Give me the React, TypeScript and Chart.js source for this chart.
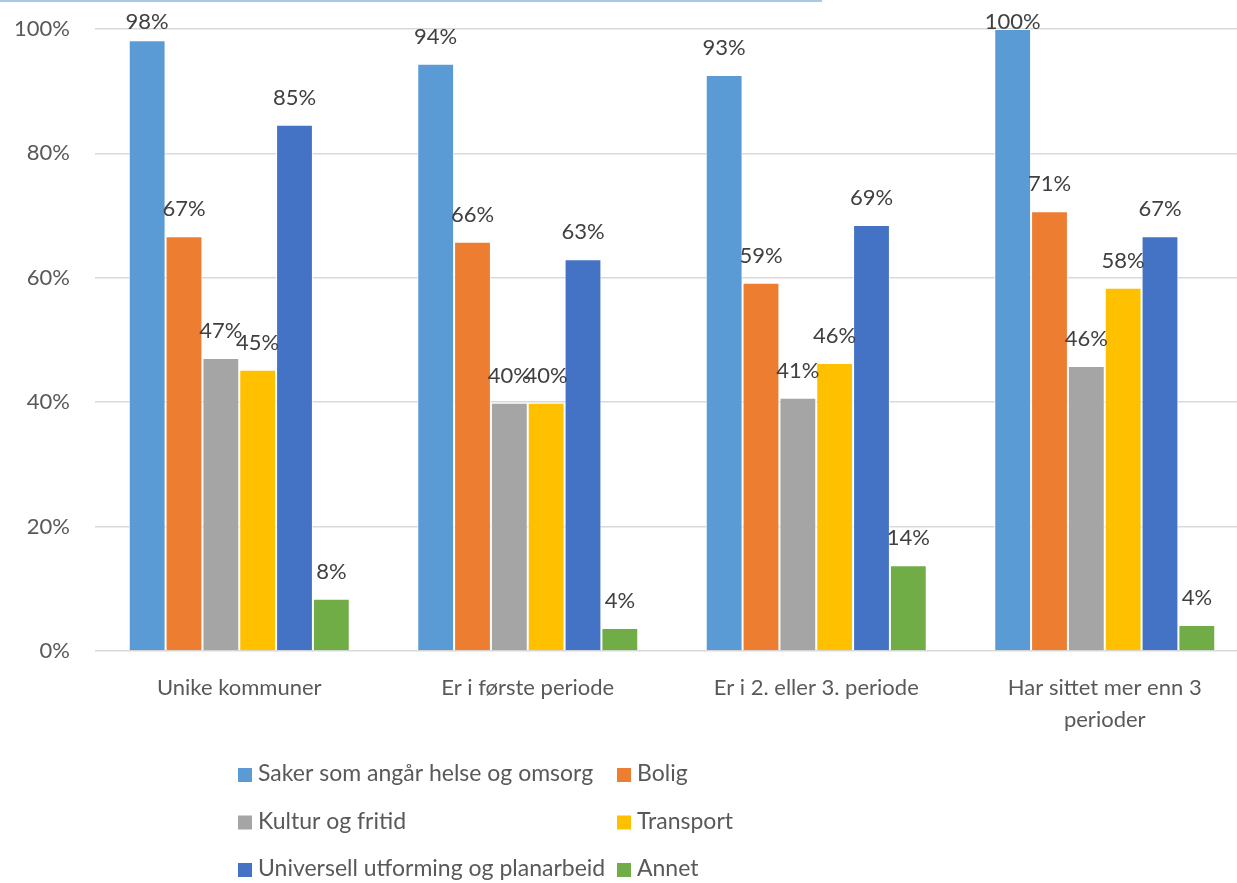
import React, { useEffect, useRef } from "react";
import { Chart, registerables } from "chart.js";
Chart.register(...registerables);

const categories: (string | string[])[] = [
  "Unike kommuner",
  "Er i første periode",
  "Er i 2. eller 3. periode",
  ["Har sittet mer enn 3", "perioder"],
];
const seriesNames = [
  "Saker som angår helse og omsorg",
  "Bolig",
  "Kultur og fritid",
  "Transport",
  "Universell utforming og planarbeid",
  "Annet",
];
const seriesColors = ["#5B9BD5", "#ED7D31", "#A5A5A5", "#FFC000", "#4472C4", "#70AD47"];
const helseOmsorg = [98.2, 94.4, 92.6, 100];
const bolig = [66.7, 65.8, 59.2, 70.7];
const kulturFritid = [47.1, 39.9, 40.7, 45.8];
const transport = [45.2, 39.9, 46.3, 58.4];
const universell = [84.6, 63.0, 68.5, 66.7];
const annet = [8.4, 3.7, 13.8, 4.2];
const seriesValues = [helseOmsorg, bolig, kulturFritid, transport, universell, annet];
const yMax = 100;
const yStep = 20;

const FONT = "Lato, 'Open Sans', sans-serif";

const labelsPlugin = {
  id: "valueLabels",
  afterDatasetsDraw(chart: any) {
    const ctx = chart.ctx;
    ctx.save();
    ctx.font = `22px ${FONT}`;
    ctx.fillStyle = "#404040";
    ctx.textAlign = "center";
    ctx.textBaseline = "middle";
    chart.data.datasets.forEach((ds: any, i: number) => {
      const meta = chart.getDatasetMeta(i);
      meta.data.forEach((bar: any, j: number) => {
        const v = ds.data[j];
        const y = Math.max(bar.y - 27, 21.5);
        ctx.fillText(Math.round(v) + "%", bar.x, y);
      });
    });
    ctx.restore();
  },
};

const legendPlugin = {
  id: "gridLegend",
  afterDraw(chart: any) {
    const ctx = chart.ctx;
    ctx.save();
    // top decorative line
    ctx.fillStyle = "#A9C8E8";
    ctx.fillRect(0, 0, 822, 2);
    ctx.font = `23px ${FONT}`;
    ctx.textBaseline = "middle";
    ctx.textAlign = "left";
    const colX = [238, 617];
    const rowY = [775, 822.5, 870];
    chart.data.datasets.forEach((ds: any, i: number) => {
      const cx = colX[i % 2];
      const cy = rowY[Math.floor(i / 2)];
      ctx.fillStyle = ds.backgroundColor;
      ctx.fillRect(cx, cy - 7, 14, 14);
      ctx.fillStyle = "#595959";
      ctx.fillText(ds.label, cx + 20, cy - 1);
    });
    ctx.restore();
  },
};

export default function App() {
  const ref = useRef<HTMLCanvasElement>(null);
  useEffect(() => {
    if (!ref.current) return;
    const chart = new Chart(ref.current, {
      type: "bar",
      data: {
        labels: categories,
        datasets: seriesNames.map((name, i) => ({
          label: name,
          data: seriesValues[i],
          backgroundColor: seriesColors[i],
          borderColor: "rgba(255,255,255,0.85)",
          borderWidth: 1,
          categoryPercentage: 0.766,
          barPercentage: 1,
        })),
      },
      options: {
        responsive: false,
        animation: false,
        layout: { padding: { top: 29, left: 0, right: 1, bottom: 132 } },
        plugins: { legend: { display: false }, tooltip: { enabled: false } },
        scales: {
          x: {
            grid: { display: false },
            border: { display: false },
            ticks: {
              color: "#595959",
              font: { family: FONT, size: 22, lineHeight: 1.45 },
              padding: 13,
              maxRotation: 0,
              autoSkip: false,
            },
            afterFit: (scale: any) => {
              scale.height = 100;
              scale.paddingLeft = 0;
              scale.paddingRight = 0;
            },
          },
          y: {
            min: 0,
            max: yMax,
            grid: { color: "#D9D9D9", lineWidth: 1.5, drawTicks: false },
            border: { display: false },
            ticks: {
              stepSize: yStep,
              color: "#595959",
              font: { family: FONT, size: 22 },
              padding: 25,
              callback: (v: any) => v + "%",
            },
            afterFit: (scale: any) => {
              scale.width = 95;
              scale.paddingTop = 0;
              scale.paddingBottom = 0;
            },
          },
        },
      },
      plugins: [labelsPlugin, legendPlugin],
    });
    return () => chart.destroy();
  }, []);
  return (
    <div
      style={{
        position: "fixed",
        top: 0,
        left: 0,
        width: 1237,
        height: 883,
        overflow: "hidden",
        background: "#fff",
      }}
    >
      <canvas ref={ref} width={1250} height={883} style={{ display: "block" }} />
    </div>
  );
}
